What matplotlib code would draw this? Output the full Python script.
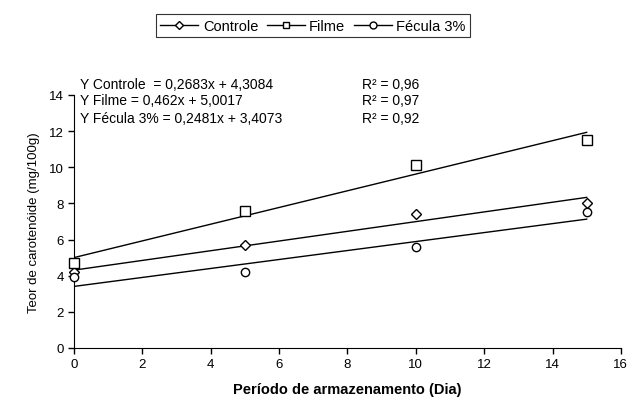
import matplotlib
matplotlib.use("Agg")
import matplotlib.pyplot as plt
from matplotlib.lines import Line2D

plt.rcParams['font.family'] = ['Liberation Sans', 'DejaVu Sans']

dias = [0, 5, 10, 15]
controle = [4.2, 5.7, 7.4, 8.0]
filme = [4.7, 7.6, 10.1, 11.5]
fecula = [3.9, 4.2, 5.6, 7.5]

nomes = ["Controle", "Filme", "Fécula 3%"]
inclinacoes = [0.2683, 0.462, 0.2481]
interceptos = [4.3084, 5.0017, 3.4073]
r2 = ["0,96", "0,97", "0,92"]
equacoes = ["Y Controle  = 0,2683x + 4,3084",
            "Y Filme = 0,462x + 5,0017",
            "Y Fécula 3% = 0,2481x + 3,4073"]
marcadores = ["D", "s", "o"]
tamanhos = [5, 6.5, 6]

fig = plt.figure(figsize=(6.3, 4.1), dpi=100)
ax = fig.add_axes([0.1175, 0.1488, 0.868, 0.6172])

series = [controle, filme, fecula]
for vals, m, s, a, b in zip(series, marcadores, tamanhos, inclinacoes, interceptos):
    ax.plot(dias, vals, linestyle='none', marker=m, markersize=s,
            markerfacecolor='white', markeredgecolor='black', markeredgewidth=1, zorder=3, clip_on=False)
    xs = [dias[0], dias[-1]]
    ax.plot(xs, [a * x + b for x in xs], color='black', linewidth=1, zorder=2)

ax.set_xlim(0, 16)
ax.set_ylim(0, 14)
ax.set_xticks(range(0, 17, 2))
ax.set_yticks(range(0, 15, 2))
ax.spines['top'].set_visible(False)
ax.spines['right'].set_visible(False)
ax.tick_params(direction='out', length=4, labelsize=9.5, width=1)
ax.set_xlabel("Período de armazenamento (Dia)", fontsize=10.5, fontweight='bold', labelpad=8)
ax.set_ylabel("Teor de carotenóide (mg/100g)", fontsize=9.5, labelpad=6)

ys = [0.793, 0.753, 0.710]
for eq, r, y in zip(equacoes, r2, ys):
    fig.text(0.127, y, eq, fontsize=10, va='center', ha='left')
    fig.text(0.575, y, "R² = " + r, fontsize=10, va='center', ha='left')

handles = [Line2D([0], [0], color='black', linewidth=1, marker=m, markersize=5 if m != "D" else 4.5,
                  markerfacecolor='white', markeredgecolor='black') for m in marcadores]
leg = fig.legend(handles, nomes, loc='center', bbox_to_anchor=(0.497, 0.935), ncol=3,
                 fontsize=10.5, frameon=True, fancybox=False, edgecolor='black',
                 handlelength=2.6, handletextpad=0.3, columnspacing=0.6, borderpad=0.3)
leg.get_frame().set_linewidth(0.8)

fig.savefig("out.png", dpi=100)
